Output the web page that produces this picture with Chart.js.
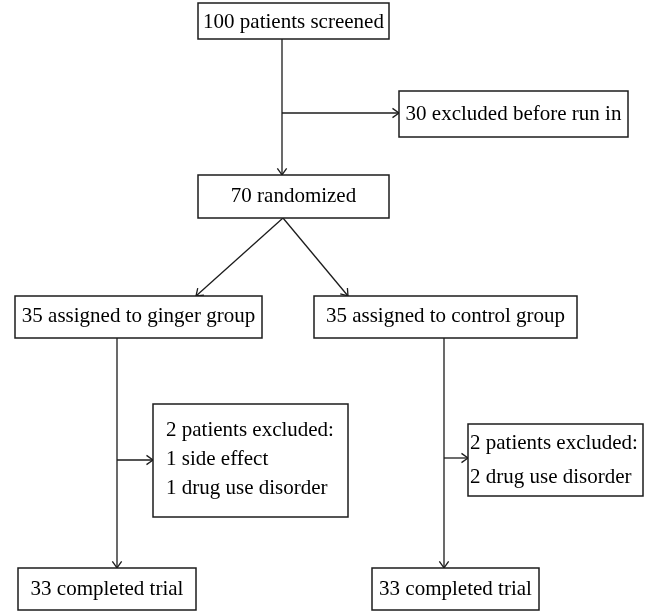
<!DOCTYPE html>
<html>
<head>
<meta charset="utf-8">
<script src="https://cdn.jsdelivr.net/npm/chart.js@4"></script>
<style>
html,body{margin:0;padding:0;background:#fff;}
canvas{display:block;}
</style>
</head>
<body>
<canvas id="c" width="652" height="611"></canvas>
<script>
// ---- content ----
const screened = 100, excludedRunIn = 30, randomized = 70;
const assignedGinger = 35, assignedControl = 35;
const completedGinger = 33, completedControl = 33;

const nodeTexts = [
  [screened + ' patients screened'],
  [excludedRunIn + ' excluded before run in'],
  [randomized + ' randomized'],
  [assignedGinger + ' assigned to ginger group'],
  [assignedControl + ' assigned to control group'],
  ['2 patients excluded:', '1 side effect', '1 drug use disorder'],
  ['2 patients excluded:', '2 drug use disorder'],
  [completedGinger + ' completed trial'],
  [completedControl + ' completed trial']
];

// ---- layout (data units of the hidden x/y scales) ----
const boxLeft   = [198, 399, 198, 15, 314, 153, 468, 18, 372];
const boxTop    = [3, 91, 175, 296, 296, 404, 424, 568, 568];
const boxRight  = [389, 628, 389, 262, 577, 348, 643, 196, 539];
const boxBottom = [39, 137, 218, 338, 338, 517, 496, 610, 610];
const textAlign = ['center','center','center','center','center','left','left','center','center'];
const textX     = [null, null, null, null, null, 166, 470, null, null];
const textBase  = [[28], [120], [202], [322], [322], [436, 465, 494], [449, 483], [595], [595]];

const connectors = [
  [[282, 39], [282, 175]],
  [[282, 113], [399, 113]],
  [[283, 218], [196, 296]],
  [[283, 218], [348, 296]],
  [[117, 338], [117, 568]],
  [[117, 460], [153, 460]],
  [[444, 338], [444, 568]],
  [[444, 458], [468, 458]]
];

const INK = '#1c1c1c';
const FONT = '21px "Liberation Serif", "DejaVu Serif", serif';

const datasets = connectors.map(c => ({
  data: c.map(p => ({x: p[0], y: p[1]})),
  showLine: true,
  borderColor: INK,
  borderWidth: 1.3,
  pointRadius: 0,
  fill: false
}));

const flowPlugin = {
  id: 'flow',
  afterDatasetsDraw(chart) {
    const ctx = chart.ctx;
    const xs = chart.scales.x, ys = chart.scales.y;
    ctx.save();
    // arrowheads
    ctx.strokeStyle = INK;
    ctx.lineWidth = 1.3;
    connectors.forEach(c => {
      const a = c[c.length - 2], b = c[c.length - 1];
      const ax = xs.getPixelForValue(a[0]), ay = ys.getPixelForValue(a[1]);
      const bx = xs.getPixelForValue(b[0]), by = ys.getPixelForValue(b[1]);
      const ang = Math.atan2(by - ay, bx - ax);
      const L = 8, W = 0.62;
      ctx.beginPath();
      ctx.moveTo(bx - L * Math.cos(ang - W), by - L * Math.sin(ang - W));
      ctx.lineTo(bx, by);
      ctx.lineTo(bx - L * Math.cos(ang + W), by - L * Math.sin(ang + W));
      ctx.stroke();
    });
    // boxes and text
    ctx.font = FONT;
    ctx.textBaseline = 'alphabetic';
    nodeTexts.forEach((lines, i) => {
      const x0 = xs.getPixelForValue(boxLeft[i]), x1 = xs.getPixelForValue(boxRight[i]);
      const y0 = ys.getPixelForValue(boxTop[i]), y1 = ys.getPixelForValue(boxBottom[i]);
      ctx.fillStyle = '#fff';
      ctx.fillRect(x0, y0, x1 - x0, y1 - y0);
      ctx.strokeStyle = INK;
      ctx.lineWidth = 1.5;
      ctx.strokeRect(x0, y0, x1 - x0, y1 - y0);
      ctx.fillStyle = '#000';
      ctx.textAlign = textAlign[i];
      const tx = textAlign[i] === 'center' ? (x0 + x1) / 2 : xs.getPixelForValue(textX[i]);
      lines.forEach((t, k) => {
        ctx.fillText(t, tx, ys.getPixelForValue(textBase[i][k]));
      });
    });
    ctx.restore();
  }
};

new Chart(document.getElementById('c'), {
  type: 'scatter',
  data: { datasets },
  options: {
    responsive: false,
    animation: false,
    devicePixelRatio: 1,
    layout: { padding: 0 },
    plugins: { legend: { display: false }, tooltip: { enabled: false } },
    scales: {
      x: { type: 'linear', min: 0, max: 652, display: false },
      y: { type: 'linear', min: 0, max: 611, reverse: true, display: false }
    }
  },
  plugins: [flowPlugin]
});
</script>
</body>
</html>
